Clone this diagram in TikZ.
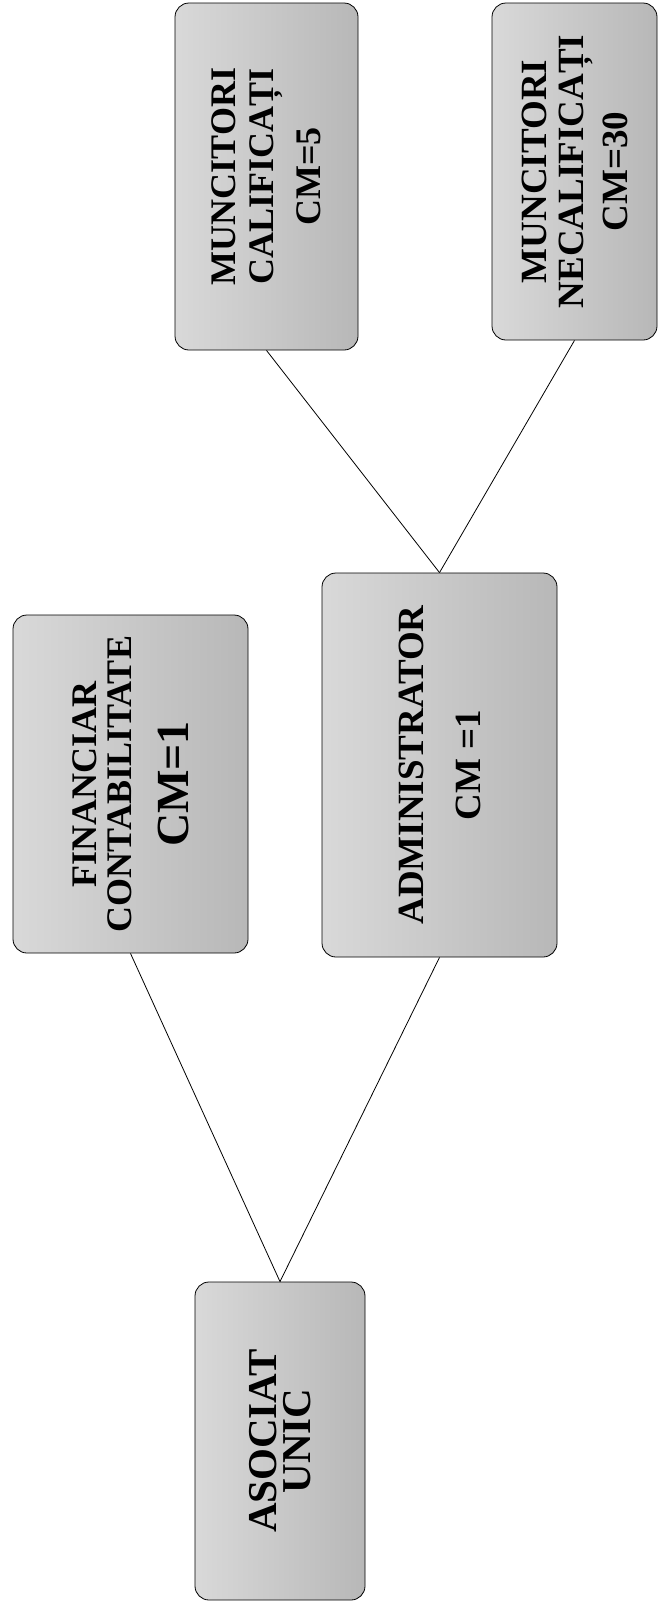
\documentclass[tikz,border=0pt]{standalone}
\usepackage{fontspec}
\setmainfont{Liberation Serif}
\usepackage{tikz}

\begin{document}
\begin{tikzpicture}[x=1pt,y=-1pt,
  box/.style={draw=black,line width=0.8pt,rounded corners=14pt,rotate=90,
    left color=gray!30,right color=gray!56,align=center,inner sep=0pt},
  link/.style={draw=black,line width=0.8pt}]
\useasboundingbox (0,0) rectangle (661,1607);
% boxes, text turned to read upwards
\node[box,minimum width=347pt,minimum height=183pt,font=\bfseries\fontsize{36}{38}\selectfont] (calif) at (266.5,176.5) {MUNCITORI\\CALIFICAȚI\\[9pt]CM=5};
\node[box,minimum width=337pt,minimum height=165pt,font=\bfseries\fontsize{37}{37}\selectfont] (necalif) at (574.5,171.5) {MUNCITORI\\NECALIFICAȚI\\[7pt]CM=30};
\node[box,minimum width=338pt,minimum height=235pt,font=\bfseries\fontsize{36}{35}\selectfont] (financiar) at (130.5,784) {FINANCIAR\\CONTABILITATE\\[22pt]{\fontsize{46}{35}\selectfont CM=1}};
\node[box,minimum width=384pt,minimum height=235pt,font=\bfseries\fontsize{37}{37}\selectfont] (admin) at (439.5,765) {ADMINISTRATOR\\[20pt]CM =1};
\node[box,minimum width=318pt,minimum height=170pt,font=\bfseries\fontsize{41}{34}\selectfont] (asociat) at (280,1441) {ASOCIAT\\UNIC};
% links
\draw[link] (calif.west) -- (admin.east);
\draw[link] (necalif.west) -- (admin.east);
\draw[link] (financiar.west) -- (asociat.east);
\draw[link] (admin.west) -- (asociat.east);
\end{tikzpicture}
\end{document}
